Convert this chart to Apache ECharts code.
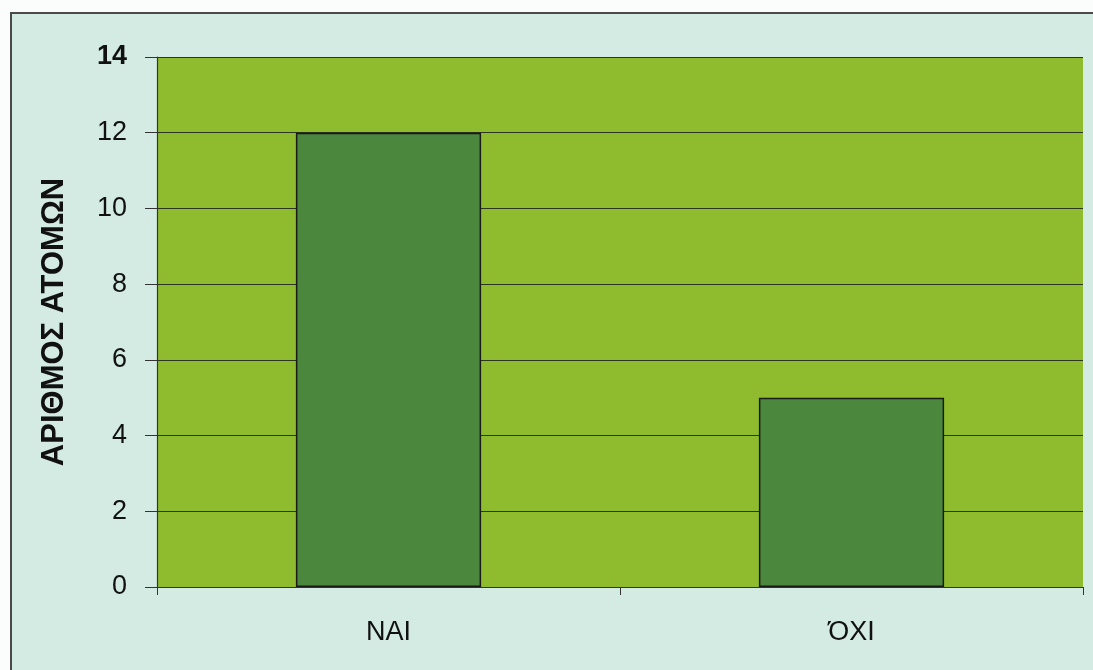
<!DOCTYPE html>
<html><head><meta charset="utf-8">
<script src="https://cdn.jsdelivr.net/npm/echarts@6/dist/echarts.min.js"></script>
<style>html,body{margin:0;padding:0;background:#fbfdfc;}#c{width:1093px;height:670px;}</style>
</head><body><div id="c"></div>
<script>
const categories = ['NAI', 'ΌΧΙ'];
const values = [12, 5];
const yTicks = [0, 2, 4, 6, 8, 10, 12, 14];
const yAxisName = 'ΑΡΙΘΜΟΣ ΑΤΟΜΩΝ';

const chart = echarts.init(document.getElementById('c'));
chart.setOption({
  animation: false,
  graphic: [
    { type: 'rect', shape: { x: 11, y: 13, width: 1090, height: 670 }, style: { fill: '#d3ebe2', stroke: '#4a4a4a', lineWidth: 2 }, z: -10 }
  ],
  grid: { left: 157, right: 10, top: 57, bottom: 83, show: true, backgroundColor: '#8ebc2e', borderWidth: 0 },
  xAxis: {
    type: 'category', data: categories,
    axisLine: { lineStyle: { color: '#333', width: 1.2 } },
    axisTick: { show: true, length: 8, lineStyle: { color: '#333' } },
    axisLabel: { color: '#111', fontSize: 27, fontFamily: 'Liberation Sans, Arial', margin: 32 }
  },
  yAxis: {
    type: 'value', min: yTicks[0], max: yTicks[yTicks.length - 1], interval: 2,
    name: yAxisName, nameLocation: 'middle', nameGap: 87, nameRotate: 90,
    nameTextStyle: { color: '#111', fontSize: 31, fontWeight: 'bold', fontFamily: 'Liberation Sans, Arial' },
    axisLine: { show: true, lineStyle: { color: '#333', width: 1.2 } },
    axisTick: { show: true, length: 12, lineStyle: { color: '#333' } },
    splitLine: { show: true, lineStyle: { color: '#2b3520', width: 1.2 } },
    axisLabel: {
      color: '#111', fontSize: 27, fontFamily: 'Liberation Sans, Arial', margin: 30,
      formatter: v => v === 14 ? '{b|' + v + '}' : String(v),
      rich: { b: { fontWeight: 'bold', fontSize: 27, color: '#111', fontFamily: 'Liberation Sans, Arial' } }
    }
  },
  series: [{
    type: 'bar', data: values, barWidth: '40%',
    itemStyle: { color: '#4b883d', borderColor: '#1a1a1a', borderWidth: 1.5 }
  }]
});
</script></body></html>
